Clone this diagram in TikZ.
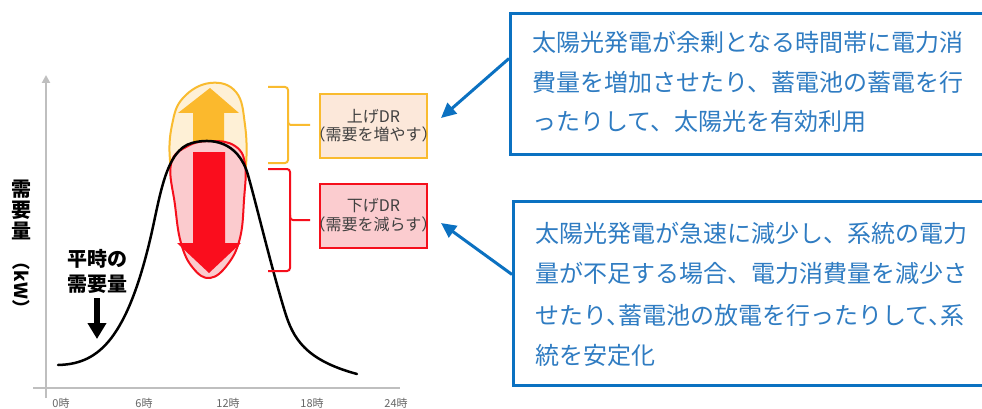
\documentclass[tikz,border=0pt]{standalone}
\usepackage{fontspec}
\setmainfont{Noto Sans CJK JP}
\usetikzlibrary{arrows.meta}
\definecolor{axisgray}{HTML}{BFBFBF}
\definecolor{labgray}{HTML}{666666}
\definecolor{orline}{HTML}{F9BB2F}
\definecolor{orfill}{HTML}{FEF0D6}
\definecolor{orarrow}{HTML}{FBB92D}
\definecolor{rdline}{HTML}{F50F1C}
\definecolor{rdfill}{HTML}{FBCBCE}
\definecolor{rdarrow}{HTML}{FA0D1D}
\definecolor{upboxfill}{HTML}{FCE8DA}
\definecolor{dnboxfill}{HTML}{FBCCCF}
\definecolor{bluebd}{HTML}{0B71C1}
\definecolor{bluetx}{HTML}{2F7CC2}
\definecolor{dtext}{HTML}{404040}
\tikzset{
  axis/.style={draw=axisgray, line width=2.5pt},
  axlab/.style={text=labgray, inner sep=0, font=\fontsize{11}{11}\selectfont},
  drbox/.style={line width=2pt, minimum width=107pt, minimum height=64pt, inner sep=0},
  drtext/.style={text=dtext, inner sep=0, font=\fontsize{16}{16}\selectfont},
  bluebox/.style={draw=bluebd, line width=3pt, fill=white, anchor=north west, inner sep=0},
  bltext/.style={text=bluetx, anchor=base west, inner sep=0, font=\fontsize{24}{24}\selectfont},
  bluearrow/.style={draw=bluebd, line width=3pt, -{Triangle[width=14pt,length=15pt]}},
  bracestyle/.style={line width=2pt, rounded corners=3pt},
  boldlab/.style={inner sep=0, font=\fontsize{20}{20}\selectfont\bfseries},
}
\begin{document}
\begin{tikzpicture}[x=1pt,y=-1pt]
\useasboundingbox (0,0) rectangle (982,409);
\fill[white] (0,0) rectangle (982,409);

% axes
\coordinate (yb) at (46,398);
\coordinate (yt) at (46,75);
\draw[axis, -{Triangle[width=8pt,length=8pt]}] (yb) -- (yt);
\coordinate (xl) at (33,388);
\coordinate (xr) at (400,388);
\draw[axis] (xl) -- (xr);
\node[axlab] (h0) at (61,403) {0時};
\node[axlab] (h6) at (144,403) {6時};
\node[axlab] (h12) at (228,403) {12時};
\node[axlab] (h18) at (312,403) {18時};
\node[axlab] (h24) at (396,403) {24時};

% y label
\node[boldlab, align=center, font=\fontsize{20}{21}\selectfont\bfseries] (ylab) at (21,210) {需\\要\\量};
\node[boldlab, rotate=-90, font=\fontsize{18}{18}\selectfont\bfseries] (ykw) at (21,285) {（kW）};

% normal demand label
\node[boldlab, align=center, font=\fontsize{20}{25}\selectfont\bfseries] (heij) at (97,271) {平時の\\需要量};
\coordinate (normstart) at (97,298);
\coordinate (normtip) at (97,339);
\draw[line width=6.5pt, -{Triangle[width=18pt,length=16pt]}] (normstart) -- (normtip);

% orange blob and up arrow
\filldraw[fill=orfill, draw=orline, line width=2pt] plot[smooth cycle, tension=0.7] coordinates
  {(170,160) (172,125) (183,98) (210,83) (236,92) (245,125) (246,165) (240,190) (210,200) (178,190)};
\fill[orarrow] (210,88) -- (239,113) -- (224,113) -- (224,142) -- (193,142) -- (193,113) -- (178,113) -- cycle;

% red blob and down arrow
\filldraw[fill=rdfill, draw=rdline, line width=2pt] plot[smooth cycle, tension=0.7] coordinates
  {(171,164) (188,146) (212,141) (235,146) (245,164) (244,200) (240,238) (228,264) (210,278) (193,268) (181,243) (175,205)};
\fill[rdarrow] (193,152) -- (225,152) -- (225,243) -- (241,243) -- (209,273) -- (177,243) -- (193,243) -- cycle;

% demand curve
\draw[line width=2.5pt, line cap=round]
  (58,365) .. controls (95,364) and (125,345) .. (150,240)
  .. controls (160,198) and (165,150) .. (192,143)
  .. controls (210,138) and (238,140) .. (248,175)
  .. controls (256,203) and (272,270) .. (285,312)
  .. controls (293,338) and (305,360) .. (357,374);

% braces
\draw[bracestyle, draw=orline] (268,87) -| (288,125) -- (310,125);
\draw[bracestyle, draw=orline] (288,120) |- (268,163);
\draw[bracestyle, draw=rdline] (268,169) -| (290,220) -- (310,220);
\draw[bracestyle, draw=rdline] (290,215) |- (268,271);

% DR boxes
\node[drbox, draw=orline, fill=upboxfill] (upbox) at (373.5,126) {};
\node[drtext] (up1) at (373.5,116) {上げDR};
\node[drtext] (up2) at (373.5,134) {（需要を増やす）};
\node[drbox, draw=rdline, fill=dnboxfill] (dnbox) at (373.5,216) {};
\node[drtext] (dn1) at (373.5,206) {下げDR};
\node[drtext] (dn2) at (373.5,224) {（需要を減らす）};

% blue boxes
\node[bluebox, minimum width=520pt, minimum height=141pt] (topbox) at (509,12) {};
\node[bltext] (t1) at (532,52) {太陽光発電が余剰となる時間帯に電力消};
\node[bltext] (t2) at (532,92) {費量を増加させたり、蓄電池の蓄電を行};
\node[bltext] (t3) at (532,131) {ったりして、太陽光を有効利用};

\node[bluebox, minimum width=520pt, minimum height=184pt] (botbox) at (512,200) {};
\node[bltext] (b1) at (535,242) {太陽光発電が急速に減少し、系統の電力};
\node[bltext] (b2) at (535,282) {量が不足する場合、電力消費量を減少さ};
\node[bltext] (b3) at (535,324) {せたり、\kern-12pt 蓄電池の放電を行ったりして、\kern-12pt 系};
\node[bltext] (b4) at (535,364) {統を安定化};

% callout arrows
\draw[bluearrow] ([yshift=25.5pt]topbox.west) -- ([xshift=13pt,yshift=8pt]upbox.east);
\draw[bluearrow] ([yshift=19pt]botbox.west) -- ([xshift=13pt,yshift=-7pt]dnbox.east);
\end{tikzpicture}
\end{document}
